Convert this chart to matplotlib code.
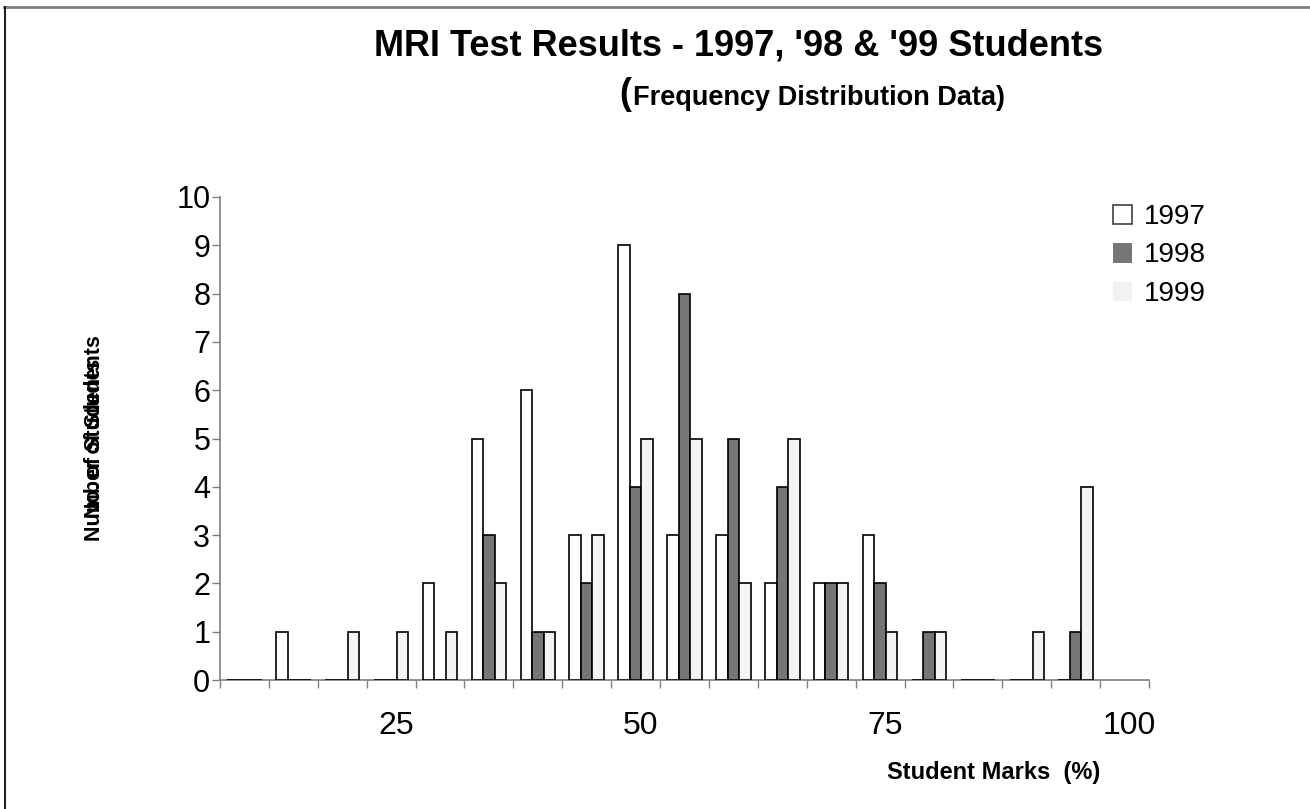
import numpy as np
import matplotlib
matplotlib.use("Agg")
import matplotlib.pyplot as plt
from matplotlib.patches import Patch
from matplotlib.lines import Line2D

plt.rcParams['font.family'] = ['Liberation Sans', 'DejaVu Sans']

# ---- data ----
bins = [10, 15, 20, 25, 30, 35, 40, 45, 50, 55, 60, 65, 70, 75, 80, 85, 90, 95, 100]
nan = np.nan
s1997 = [0, 1, 0, 0, 2, 5, 6, 3, 9, 3, 3, 2, 2, 3, 0, 0, 0, 0, nan]
s1998 = [0, 0, 0, 0, 0, 3, 1, 2, 4, 8, 5, 4, 2, 2, 1, 0, 0, 1, nan]
s1999 = [0, 0, 1, 1, 1, 2, 1, 3, 5, 5, 2, 5, 2, 1, 1, 0, 1, 4, nan]
series_names = ['1997', '1998', '1999']
xtick_values = [25, 50, 75, 100]
yticks = list(range(0, 11))

colors = ['#FFFFFF', '#767676', '#F4F4F4']

fig = plt.figure(figsize=(13.10, 8.09), dpi=100)
ax = fig.add_axes([220/1310, 1-680/809, (1149-220)/1310, (680-197)/809])

x = np.arange(len(bins))
bw = 0.235
for k, (vals, col) in enumerate(zip([s1997, s1998, s1999], colors)):
    v = np.array(vals, dtype=float)
    m = ~np.isnan(v)
    ax.bar(x[m] + (k-1)*bw, v[m], width=bw, color=col, edgecolor='black',
           linewidth=1.2, zorder=3)

ax.set_xlim(-0.5, len(bins)-0.5)
ax.set_ylim(0, 10)
ax.set_yticks(yticks)
ax.tick_params(axis='y', direction='out', length=6, width=1, color='#808080',
               labelsize=22, pad=1)

# x: label positions (slightly offset from category positions) and boundary tick marks
ax.set_xticks([bins.index(v) + 0.1 for v in xtick_values])
ax.set_xticklabels([str(v) for v in xtick_values])
ax.tick_params(axis='x', which='major', length=0, labelsize=23, pad=22)
ax.set_xticks(np.arange(-0.5, len(bins), 1.0), minor=True)
ax.tick_params(axis='x', which='minor', direction='out', length=6, width=1, color='#808080')

for sp in ['top', 'right']:
    ax.spines[sp].set_visible(False)
for sp in ['left', 'bottom']:
    ax.spines[sp].set_color('#808080')
    ax.spines[sp].set_linewidth(1.2)

# titles
fig.text(739/1310, 1-46/809, "MRI Test Results - 1997, '98 & '99 Students",
         ha='center', va='center', fontsize=26, fontweight='bold')
fig.text(625/1310, 1-95/809, "(", ha='center', va='center', fontsize=26, fontweight='bold')
fig.text(633/1310, 1-98/809, "Frequency Distribution Data)", ha='left', va='center',
         fontsize=19.5, fontweight='bold')

# axis labels
fig.text(994/1310, 1-773/809, "Student Marks  (%)", ha='center', va='center',
         fontsize=17, fontweight='bold')
fig.text(94/1310, 1-438/809, "No. of Students", rotation=90, ha='center', va='center',
         fontsize=15.5, fontweight='bold')
fig.text(94/1310, 1-438/809, "Number of Students", rotation=90, ha='center', va='center',
         fontsize=15.5, fontweight='bold')

# legend
handles = [Patch(facecolor='#FFFFFF', edgecolor='#404040', linewidth=1.2),
           Patch(facecolor='#767676', edgecolor='none'),
           Patch(facecolor='#F2F2F2', edgecolor='none')]
fig.legend(handles, series_names, loc='upper left', bbox_to_anchor=(1113/1310, 1-204/809),
           frameon=False, fontsize=20, handlelength=0.7, handleheight=0.7,
           handletextpad=0.4, labelspacing=0.45, borderaxespad=0, borderpad=0)

# figure border (top gray, left black)
fig.add_artist(Line2D([4/1310, 1], [1-7/809, 1-7/809], color='#808080', linewidth=2,
                      transform=fig.transFigure))
fig.add_artist(Line2D([5/1310, 5/1310], [0, 1-7/809], color='#202020', linewidth=1.5,
                      transform=fig.transFigure))

fig.savefig('out.png', dpi=100)
